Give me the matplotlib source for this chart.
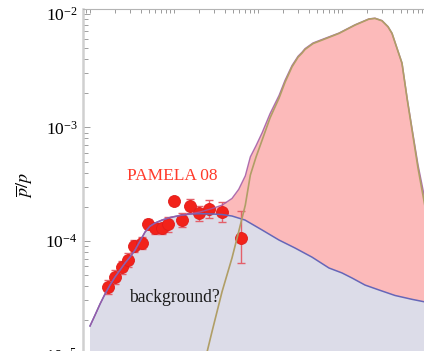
import numpy as np
import matplotlib
matplotlib.use("Agg")
import matplotlib.pyplot as plt
from matplotlib.ticker import LogLocator, LogFormatterMathtext, NullFormatter

plt.rcParams['font.family'] = ['Liberation Serif', 'DejaVu Serif']
plt.rcParams['mathtext.fontset'] = 'stix'

# PAMELA 2008 antiproton / proton ratio
pamela_T = [1.62, 1.98, 2.38, 2.86, 3.37, 4.13, 4.86, 5.94, 7.14, 8.55,
            10.1, 12.4, 15.5, 19.8, 26.1, 37.0, 62.2]
pamela_ratio = [3.96e-5, 4.85e-5, 5.88e-5, 6.81e-5, 9.10e-5, 9.55e-5, 1.40e-4,
                1.29e-4, 1.29e-4, 1.40e-4, 2.25e-4, 1.53e-4, 2.04e-4, 1.75e-4,
                1.91e-4, 1.79e-4, 1.07e-4]
pamela_err_up = [0.60e-5, 0.70e-5, 0.85e-5, 1.0e-5, 1.2e-5, 1.2e-5, 1.5e-5,
                 1.6e-5, 1.6e-5, 2.2e-5, 2.0e-5, 2.2e-5, 3.2e-5, 3.0e-5,
                 3.9e-5, 4.3e-5, 7.8e-5]
pamela_err_dn = [0.52e-5, 0.62e-5, 0.75e-5, 0.9e-5, 1.05e-5, 1.05e-5, 1.3e-5,
                 1.4e-5, 1.4e-5, 1.9e-5, 1.8e-5, 1.9e-5, 2.8e-5, 2.6e-5,
                 3.3e-5, 3.1e-5, 4.3e-5]

# astrophysical background
bg_T = [1.00, 1.147, 1.315, 1.508, 1.730, 1.984, 2.275, 2.61, 2.99, 3.43,
        3.94, 4.52, 5.18, 5.94, 7.20, 8.96, 11.8, 15.5, 20.4, 28.3, 37.3,
        49.0, 70.0, 112, 178, 276, 439, 700, 1000, 1315, 1879, 2757, 4272,
        6810, 10000]
bg_ratio = [1.79e-5, 2.23e-5, 2.79e-5, 3.42e-5, 4.10e-5, 4.82e-5, 5.55e-5,
            6.40e-5, 7.22e-5, 8.32e-5, 1.00e-4, 1.20e-4, 1.35e-4, 1.44e-4,
            1.53e-4, 1.61e-4, 1.68e-4, 1.73e-4, 1.74e-4, 1.73e-4, 1.71e-4,
            1.66e-4, 1.53e-4, 1.25e-4, 1.02e-4, 8.68e-5, 7.22e-5, 5.79e-5,
            5.24e-5, 4.73e-5, 4.10e-5, 3.71e-5, 3.32e-5, 3.07e-5, 2.90e-5]

# dark matter signal
dm_T = [20.4, 28.3, 37.3, 49.0, 58.9, 70.6, 81.0, 94.7, 112, 139, 178, 210,
        254, 300, 334, 363, 452, 578, 921, 1428, 2096, 2471, 2994, 3529, 3938,
        5179, 5990, 6909, 8031, 10000]
dm_ratio = [5.87e-6, 1.59e-5, 3.58e-5, 7.09e-5, 1.21e-4, 2.07e-4, 3.80e-4,
            5.48e-4, 7.73e-4, 1.21e-3, 1.81e-3, 2.50e-3, 3.41e-3, 4.15e-3,
            4.50e-3, 4.85e-3, 5.46e-3, 5.86e-3, 6.71e-3, 7.94e-3, 8.97e-3,
            9.09e-3, 8.66e-3, 7.67e-3, 6.71e-3, 3.66e-3, 1.74e-3, 8.91e-4,
            4.39e-4, 1.80e-4]

# background + signal
tot_T = dm_T
tot_ratio = [1.80e-4, 1.93e-4, 2.07e-4, 2.37e-4, 2.85e-4, 3.75e-4, 5.50e-4,
             6.90e-4, 8.98e-4, 1.32e-3, 1.91e-3, 2.60e-3, 3.50e-3, 4.23e-3,
             4.58e-3, 4.93e-3, 5.53e-3, 5.93e-3, 6.76e-3, 7.99e-3, 9.01e-3,
             9.13e-3, 8.70e-3, 7.70e-3, 6.74e-3, 3.69e-3, 1.77e-3, 9.22e-4,
             4.69e-4, 2.09e-4]

yticks = [1e-5, 1e-4, 1e-3, 1e-2]

fig = plt.figure(figsize=(4.24, 3.51), dpi=100)
ax = fig.add_axes([83 / 424, -3.7 / 351, 343 / 424, 345.7 / 351])
ax.set_xscale('log')
ax.set_yscale('log')
ax.set_xlim(0.825, 1e4)
ax.set_ylim(1e-5, 1.10e-2)

bg_T_a = np.array(bg_T)
bg_r_a = np.array(bg_ratio)
tot_T_a = np.array(tot_T)
tot_r_a = np.array(tot_ratio)

# background region
ax.fill_between(bg_T_a, 1e-7, bg_r_a, color='#dcdce8', lw=0, zorder=1)

# excess region between background and total
sel = bg_T_a >= tot_T_a[0]
poly_x = np.concatenate([tot_T_a, bg_T_a[sel][::-1]])
poly_y = np.concatenate([tot_r_a, bg_r_a[sel][::-1]])
ax.fill(poly_x, poly_y, color='#fcbaba', lw=0, zorder=1)

# data points
ax.errorbar(pamela_T, pamela_ratio, yerr=[pamela_err_dn, pamela_err_up],
            fmt='none', ecolor='#e3606a', elinewidth=1.0, capsize=2.8,
            capthick=1.0, zorder=2)
ax.plot(pamela_T, pamela_ratio, 'o', ms=8.6, color='#f2221a',
        mec='#e01c1a', mew=0.6, zorder=3, linestyle='none')

# curves
ax.plot(bg_T_a, bg_r_a, color='#6666b8', lw=1.1, zorder=5)
left = bg_T_a < tot_T_a[0]
ax.plot(np.concatenate([bg_T_a[left], tot_T_a]),
        np.concatenate([bg_r_a[left], tot_r_a]),
        color='#a05aa6', lw=1.0, alpha=0.85, zorder=6)
ax.plot(dm_T, dm_ratio, color='#b09e66', lw=1.2, zorder=7)

# axes styling
for s in ('right', 'bottom'):
    ax.spines[s].set_visible(False)
ax.spines['left'].set_color('#d0d0d0')
ax.spines['left'].set_linewidth(1.8)
ax.spines['top'].set_color('#b4b4b4')
ax.spines['top'].set_linewidth(0.8)

ax.xaxis.set_ticks_position('top')
ax.xaxis.set_major_locator(LogLocator(base=10, numticks=20))
ax.xaxis.set_minor_locator(LogLocator(base=10, subs=np.arange(2, 10), numticks=20))
ax.xaxis.set_major_formatter(NullFormatter())
ax.xaxis.set_minor_formatter(NullFormatter())
ax.tick_params(axis='x', which='both', direction='in', length=3.2, width=0.7,
               color='#9a9a9a', labeltop=False, labelbottom=False)

ax.yaxis.set_ticks_position('left')
ax.set_yticks(yticks)
ax.yaxis.set_major_formatter(LogFormatterMathtext())
ax.yaxis.set_minor_locator(LogLocator(base=10, subs=np.arange(2, 10), numticks=20))
ax.yaxis.set_minor_formatter(NullFormatter())
ax.tick_params(axis='y', which='major', direction='in', length=5.0, width=0.7,
               color='#a0a0a0', labelsize=12.5, pad=4.0)
ax.tick_params(axis='y', which='minor', direction='in', length=3.6, width=0.7,
               color='#a0a0a0')

ax.patch.set_alpha(0)

fig.text(25 / 424, 1 - 185 / 351, r'$\overline{p}/p$', rotation=90,
         ha='center', va='center', fontsize=13)

ax.text(2.78, 3.44e-4, 'PAMELA 08', color='#ff3a2a', fontsize=12.5,
        ha='left', va='baseline', zorder=8)
ax.text(2.94, 2.92e-5, 'background?', color='#1a1a1a', fontsize=12.7,
        ha='left', va='baseline', zorder=8)

fig.savefig('out.png', dpi=100)
